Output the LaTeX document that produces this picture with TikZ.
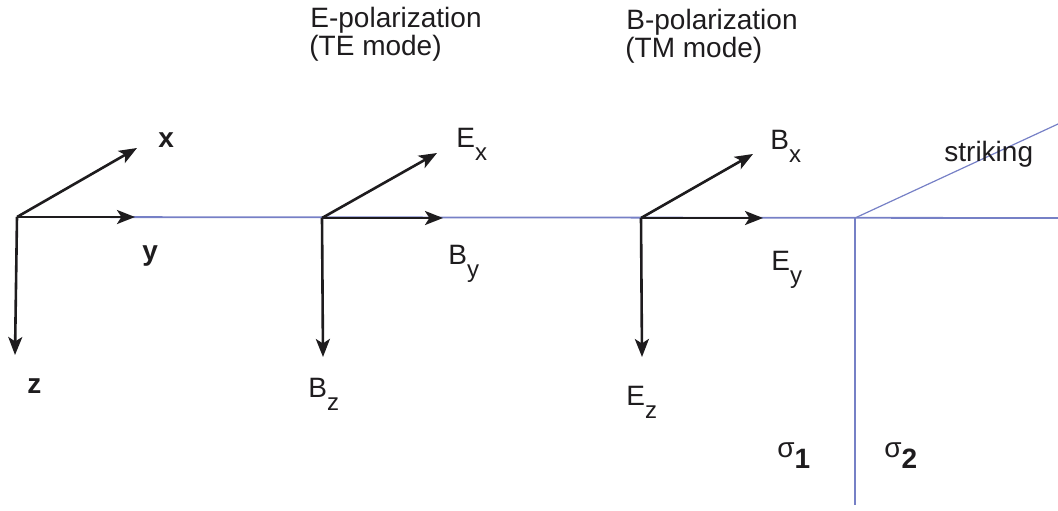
\documentclass[tikz,border=0pt]{standalone}
\usepackage{fontspec}
\setmainfont{Liberation Sans}
\usetikzlibrary{arrows.meta}
\definecolor{planecol}{RGB}{118,128,198}
\definecolor{inkcol}{RGB}{30,28,30}
\newcommand{\lowsub}[2]{#1\raisebox{-6.5pt}{\fontsize{12}{12}\selectfont #2}}
\newcommand{\sigsub}[1]{σ\raisebox{-5.5pt}{\bfseries #1}}

\begin{document}
\begin{tikzpicture}[
    x=0.5pt, y=-0.5pt,
    every node/.style={font=\fontsize{14}{14}\selectfont, text=inkcol, inner sep=0pt, anchor=base west},
    vec/.style={draw=inkcol, line width=1.3pt, -{Stealth[length=9pt,width=7pt,inset=2.2pt]}},
    plane/.style={draw=planecol, line width=0.9pt}
]
\useasboundingbox (0,0) rectangle (1058,510);

% Origins of the three frames and the interface corner
\coordinate (Oa) at (17,217);
\coordinate (Ob) at (322,218);
\coordinate (Oc) at (641,218);
\coordinate (C) at (855,218);
\coordinate (R) at (1058,218);
\coordinate (Cdown) at (855,505);
\coordinate (Cup) at (1058,124);

% Arrow tips
\coordinate (xa) at (137,148);
\coordinate (ya) at (135,217);
\coordinate (za) at (15,355);
\coordinate (xb) at (437,153);
\coordinate (yb) at (443,218);
\coordinate (zb) at (323,357);
\coordinate (xc) at (753,154);
\coordinate (yc) at (763,218);
\coordinate (zc) at (642,357);

% Interface lines
\draw[plane] (Oa) -- (R);
\draw[plane] (C) -- (Cdown);
\draw[plane, line width=0.6pt] (C) -- (Cup);

% Field vectors
\draw[vec] (Oa) -- (xa);
\draw[vec] (Oa) -- (ya);
\draw[vec] (Oa) -- (za);
\draw[vec] (Ob) -- (xb);
\draw[vec] (Ob) -- (yb);
\draw[vec] (Ob) -- (zb);
\draw[vec] (Oc) -- (xc);
\draw[vec] (Oc) -- (yc);
\draw[vec] (Oc) -- (zc);

% Titles
\node (TEa) at (310,27) {E-polarization};
\node (TEb) at (309,55) {(TE mode)};
\node (TMa) at (626,29) {B-polarization};
\node (TMb) at (625,57) {(TM mode)};

% Labels
\node (lx) at (158,147) {\bfseries x};
\node (ly) at (142,260) {\bfseries y};
\node (lz) at (27,393) {\bfseries z};
\node (Ex) at (456,147) {\lowsub{E}{x}};
\node (By) at (448,264) {\lowsub{B}{y}};
\node (Bz) at (308,397) {\lowsub{B}{z}};
\node (Bx) at (770,149) {\lowsub{B}{x}};
\node (Ey) at (771,270) {\lowsub{E}{y}};
\node (Ez) at (626,405) {\lowsub{E}{z}};
\node (strike) at (944,161) {striking};
\node (s1) at (777,457) {\sigsub{1}};
\node (s2) at (884,457) {\sigsub{2}};
\end{tikzpicture}
\end{document}
